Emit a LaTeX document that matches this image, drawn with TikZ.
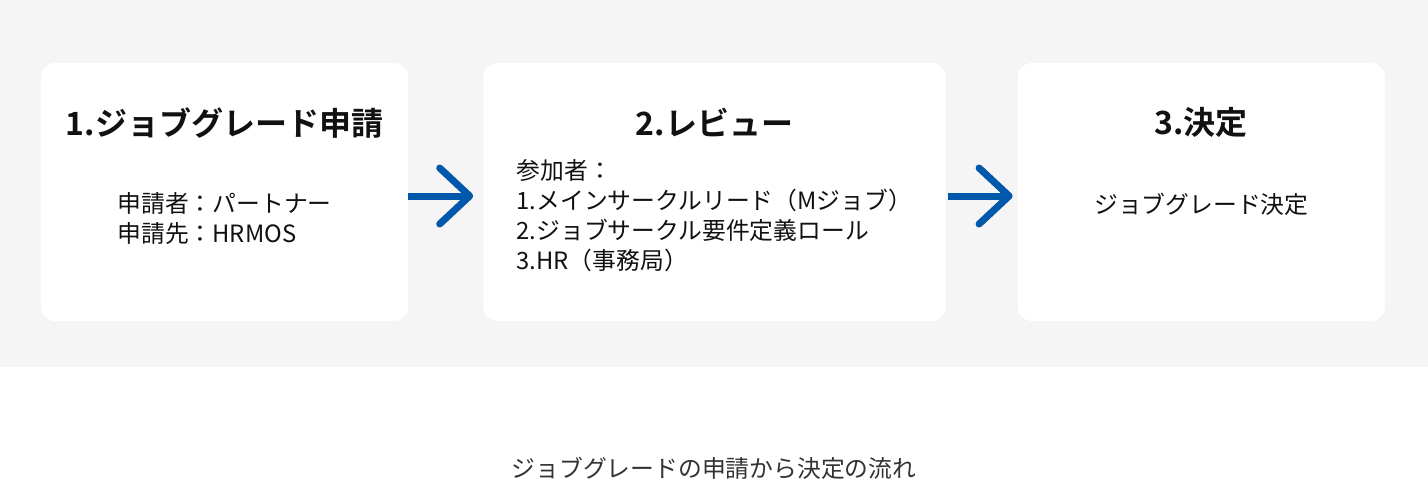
\documentclass[tikz,border=0pt]{standalone}
\usepackage{fontspec}
\setmainfont{Noto Sans CJK JP}[BoldFont={Noto Sans CJK JP Bold}]
\usepackage{xcolor}
\usepackage{tikz}
\usetikzlibrary{positioning, arrows.meta}

\definecolor{bggray}{HTML}{F5F5F5}
\definecolor{flowblue}{RGB}{0,88,170}
\definecolor{inkblack}{HTML}{111111}
\definecolor{capgray}{HTML}{333333}

\begin{document}
\begin{tikzpicture}[x=1pt, y=-1pt,
    card/.style={fill=white, rounded corners=14pt, minimum height=258pt, inner sep=0pt},
    cardtitle/.style={font=\fontsize{32}{32}\selectfont\bfseries, text=inkblack, inner sep=0pt},
    cardbody/.style={font=\fontsize{23.8}{30}\selectfont, text=inkblack, align=left, inner sep=0pt},
    flow/.style={line width=7pt, draw=flowblue, -{Straight Barb[length=30pt, width=56pt, round]}}]
    % Page and grey band
    \useasboundingbox (0,0) rectangle (1428,482);
    \fill[bggray] (0,0) rectangle (1428,367);
    % Three cards
    \node[card, minimum width=367pt] (apply) at (224.5,192) {};
    \node[card, minimum width=462pt, right=75pt of apply] (review) {};
    \node[card, minimum width=367pt, right=72pt of review] (decide) {};
    % Card titles
    \node[cardtitle] (applytitle) at ([yshift=-60pt]apply.north) {1.ジョブグレード申請};
    \node[cardtitle] (reviewtitle) at ([yshift=-60pt]review.north) {2.レビュー};
    \node[cardtitle] (decidetitle) at ([yshift=-60pt]decide.north) {3.決定};
    % Card texts
    \node[cardbody] (applybody) at ([yshift=-26.5pt]apply.center) {申請者：パートナー\\申請先：HRMOS};
    \node[cardbody] (reviewbody) at ([yshift=-24pt]review.center) {参加者：\\1.メインサークルリード（Mジョブ）\\2.ジョブサークル要件定義ロール\\3.HR（事務局）};
    \node[cardbody] (decidebody) at ([yshift=-12pt]decide.center) {ジョブグレード決定};
    % Arrows between cards
    \draw[flow] ([yshift=-4pt]apply.east) -- ([xshift=-10pt, yshift=-4pt]review.west);
    \draw[flow] ([xshift=2pt, yshift=-4pt]review.east) -- ([xshift=-5pt, yshift=-4pt]decide.west);
    % Caption
    \node[font=\fontsize{23.8}{24}\selectfont, text=capgray, inner sep=0pt] (caption) at (714,468) {ジョブグレードの申請から決定の流れ};
\end{tikzpicture}
\end{document}
